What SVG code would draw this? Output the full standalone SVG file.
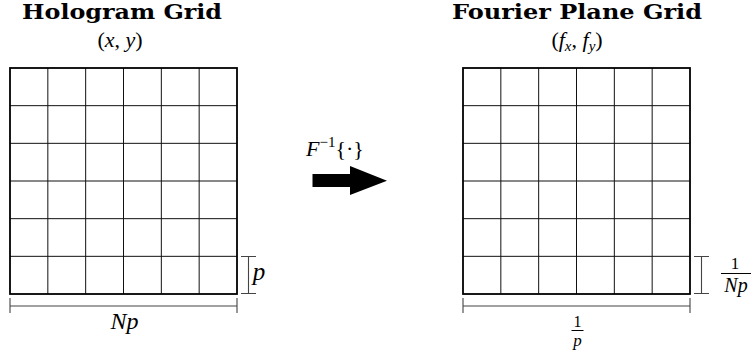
<svg xmlns="http://www.w3.org/2000/svg" width="753" height="360" viewBox="0 0 753 360">
  <defs>
    <g id="grid">
      <path fill="none" stroke="#111" stroke-width="1" d="M37.83 0V226M75.67 0V226M113.5 0V226M151.33 0V226M189.17 0V226M0 37.67H227M0 75.33H227M0 113H227M0 150.67H227M0 188.33H227"/>
      <rect fill="none" stroke="#000" stroke-width="1.8" x="0" y="0" width="227" height="226"/>
      <path fill="none" stroke="#444" stroke-width="1.1" d="M0 238H227M0 230V245M227 230V245"/>
      <path fill="none" stroke="#444" stroke-width="1.1" d="M238.5 188.5V225.5M231 188.5H246M231 225.5H246"/>
    </g>
  </defs>

  <g id="hologram-grid">
    <text font-family="DejaVu Serif, Liberation Serif, serif" font-weight="bold" font-size="20" x="122" y="19" text-anchor="middle" textLength="200" lengthAdjust="spacingAndGlyphs">Hologram Grid</text>
    <text font-family="Liberation Serif, serif" font-size="22" x="120" y="47" text-anchor="middle">(<tspan font-style="italic">x</tspan>, <tspan font-style="italic">y</tspan>)</text>
    <use href="#grid" x="10" y="68"/>
    <text font-family="Liberation Serif, serif" font-size="24" font-style="italic" x="124.5" y="329" text-anchor="middle">Np</text>
    <text font-family="Liberation Serif, serif" font-size="25" font-style="italic" x="259" y="280" text-anchor="middle">p</text>
  </g>

  <g id="fourier-grid">
    <text font-family="DejaVu Serif, Liberation Serif, serif" font-weight="bold" font-size="20" x="577" y="19" text-anchor="middle" textLength="250" lengthAdjust="spacingAndGlyphs">Fourier Plane Grid</text>
    <text font-family="Liberation Serif, serif" font-size="22" x="577" y="47" text-anchor="middle">(<tspan font-style="italic">f</tspan><tspan font-style="italic" font-size="15" dy="4">x</tspan><tspan dy="-4">, </tspan><tspan font-style="italic">f</tspan><tspan font-style="italic" font-size="15" dy="4">y</tspan><tspan dy="-4">)</tspan></text>
    <use href="#grid" x="463" y="68"/>
    <text font-family="Liberation Serif, serif" font-size="17" x="735" y="269" text-anchor="middle">1</text>
    <line stroke="#000" stroke-width="1" x1="721" y1="273.5" x2="751" y2="273.5"/>
    <text font-family="Liberation Serif, serif" font-size="20" font-style="italic" x="736" y="292" text-anchor="middle">Np</text>
    <text font-family="Liberation Serif, serif" font-size="16" x="577.5" y="327" text-anchor="middle">1</text>
    <line stroke="#000" stroke-width="1" x1="571.5" y1="330.5" x2="583.5" y2="330.5"/>
    <text font-family="Liberation Serif, serif" font-size="17" font-style="italic" x="577.5" y="346" text-anchor="middle">p</text>
  </g>

  <g id="connectors">
    <text font-family="Liberation Serif, serif" font-size="22" x="306" y="156"><tspan font-style="italic">F</tspan><tspan font-size="15" dy="-9">&#8722;1</tspan><tspan dy="9">{&#183;}</tspan></text>
    <polygon points="312.5,174 350,174 350,166 387,180.7 350,195 350,187 312.5,187" fill="#000"/>
  </g>
</svg>
